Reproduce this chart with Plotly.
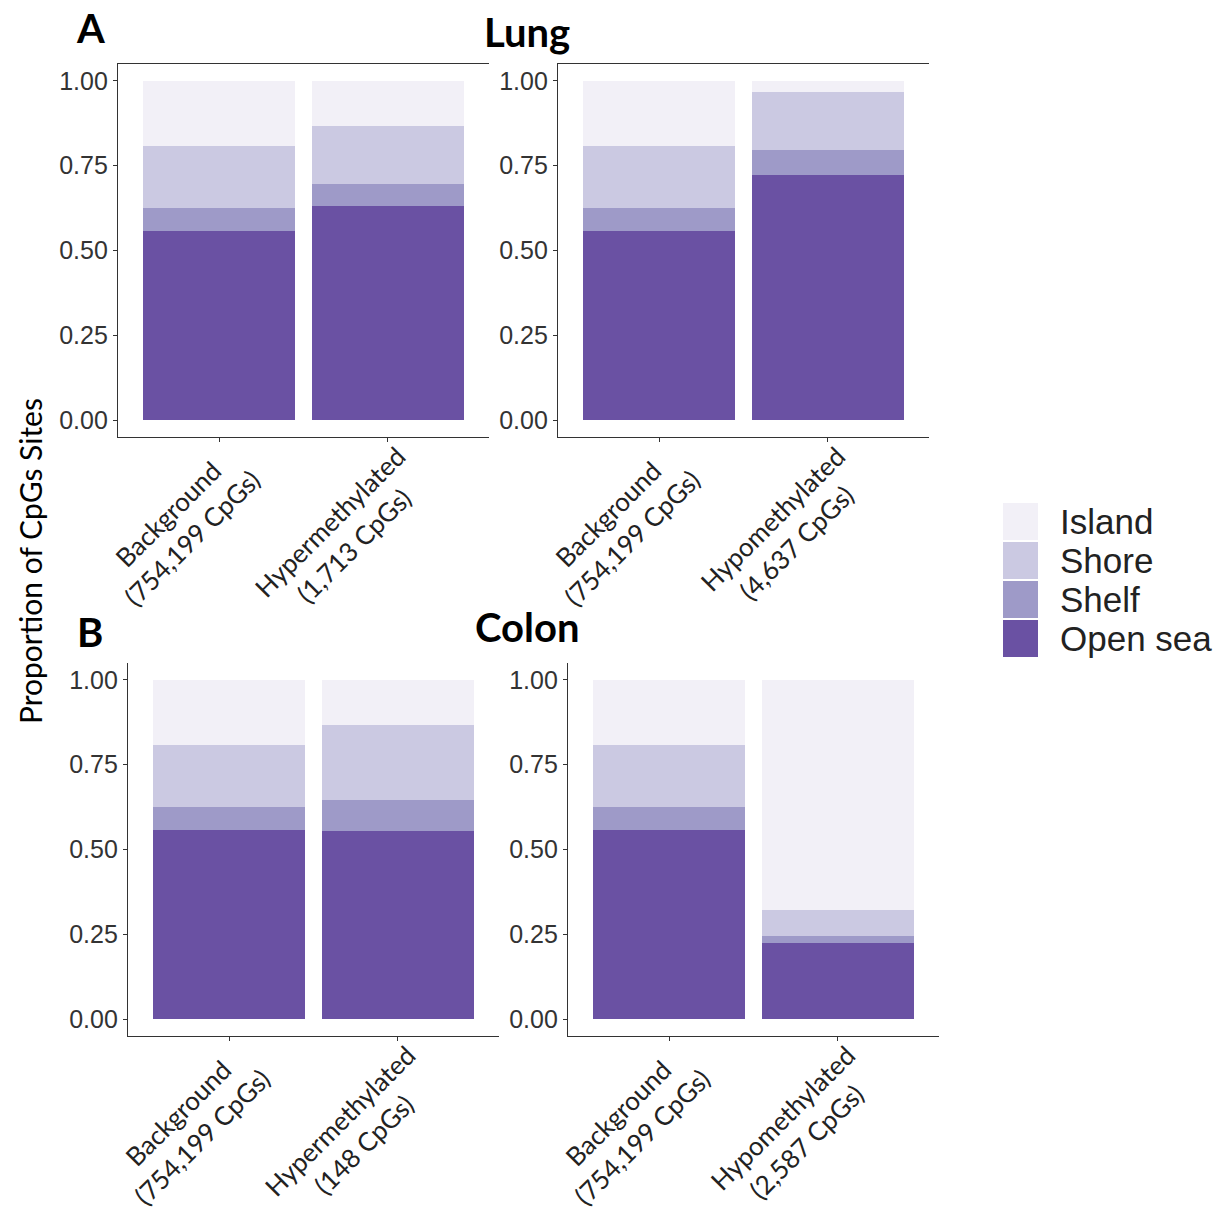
import plotly.graph_objects as go

W, H = 1228, 1211

# ---- data ----
region_names = ["Island", "Shore", "Shelf", "Open sea"]
region_colors = ["#f2f0f7", "#cbc9e2", "#9e9ac8", "#6a51a3"]

# proportions in the order Island, Shore, Shelf, Open sea
background_vals = [0.192, 0.184, 0.067, 0.557]
lung_hyper_vals = [0.133, 0.172, 0.064, 0.631]
lung_hypo_vals = [0.032, 0.172, 0.073, 0.723]
colon_hyper_vals = [0.133, 0.221, 0.091, 0.555]
colon_hypo_vals = [0.678, 0.076, 0.022, 0.224]

lung_hyper_labels = ["Background<br>(754,199 CpGs)", "Hypermethylated<br>(1,713 CpGs)"]
lung_hypo_labels = ["Background<br>(754,199 CpGs)", "Hypomethylated<br>(4,637 CpGs)"]
colon_hyper_labels = ["Background<br>(754,199 CpGs)", "Hypermethylated<br>(148 CpGs)"]
colon_hypo_labels = ["Background<br>(754,199 CpGs)", "Hypomethylated<br>(2,587 CpGs)"]

y_ticks = [0, 0.25, 0.5, 0.75, 1.0]

panels = [
    (lung_hyper_labels, background_vals, lung_hyper_vals),
    (lung_hypo_labels, background_vals, lung_hypo_vals),
    (colon_hyper_labels, background_vals, colon_hyper_vals),
    (colon_hypo_labels, background_vals, colon_hypo_vals),
]

# ---- layout geometry (pixels) ----
px_domains = [
    ((118, 489), (64, 437)),
    ((558, 929), (64, 437)),
    ((128, 499), (663, 1036)),
    ((568, 939), (663, 1036)),
]

fig = go.Figure()
LINE = "#333333"
layout = {}
annotations = []
for i, (labels, bg, vals) in enumerate(panels):
    k = "" if i == 0 else str(i + 1)
    for j in [3, 2, 1, 0]:
        fig.add_trace(go.Bar(
            x=labels, y=[bg[j], vals[j]], name=region_names[j],
            marker=dict(color=region_colors[j], line=dict(width=0)),
            xaxis="x" + k, yaxis="y" + k, showlegend=False,
        ))
    (x0, x1), (yt, yb) = px_domains[i]
    layout["xaxis" + k] = dict(
        domain=[x0 / W, x1 / W], anchor="y" + k, type="category", automargin=False,
        range=[-0.6, 1.6], showline=True, linecolor=LINE, linewidth=1.3,
        mirror=(i < 2), ticks="outside", ticklen=4, tickcolor=LINE, tickwidth=1.2,
        showticklabels=False, showgrid=False, zeroline=False,
    )
    layout["yaxis" + k] = dict(
        domain=[1 - yb / H, 1 - yt / H], anchor="x" + k, automargin=False,
        range=[-0.05, 1.05], tickvals=y_ticks, tickformat=".2f",
        showline=True, linecolor=LINE, linewidth=1.3, ticks="outside",
        ticklen=4, tickcolor=LINE, tickwidth=1.2, showgrid=False, zeroline=False,
        tickfont=dict(family="Liberation Sans", size=25, color="#333333"),
    )
    # category labels: centred two-line blocks rotated 45 degrees, block end at the tick
    for lab in labels:
        annotations.append(dict(
            text=lab, x=lab, xref="x" + k, y=1 - yb / H, yref="paper",
            xanchor="right", yanchor="top", textangle=-45, align="center",
            showarrow=False, xshift=50, yshift=0,
            font=dict(family="Lato", size=26, color="#222222"),
        ))

def title(text, x, y, size=40):
    annotations.append(dict(text="<b>%s</b>" % text, x=x / W, y=1 - y / H, xref="paper", yref="paper",
                            showarrow=False, xanchor="center", yanchor="middle",
                            font=dict(family="Lato", size=size, color="black")))

title("A", 90, 28)
title("Lung", 527, 32)
title("B", 90, 632)
title("Colon", 527, 627)

annotations.append(dict(text="Proportion of CpGs Sites", x=30 / W, y=1 - 561 / H, xref="paper", yref="paper",
                        showarrow=False, textangle=-90, xanchor="center", yanchor="middle",
                        font=dict(family="Lato", size=30, color="black")))

# manual legend
shapes = []
row_tops = [503, 542, 581, 620]
for name, col, top in zip(region_names, region_colors, row_tops):
    shapes.append(dict(type="rect", xref="paper", yref="paper",
                       x0=1003 / W, x1=1038 / W, y0=1 - (top + 37) / H, y1=1 - top / H,
                       fillcolor=col, line=dict(width=0)))
    annotations.append(dict(text=name, x=1058 / W, y=1 - (top + 18.5) / H, xref="paper", yref="paper",
                            showarrow=False, xanchor="left", yanchor="middle",
                            font=dict(family="Liberation Sans", size=35, color="#222222")))

fig.update_layout(
    width=W, height=H, margin=dict(l=0, r=0, t=0, b=0),
    paper_bgcolor="white", plot_bgcolor="white",
    barmode="stack", bargap=0.1, showlegend=False,
    annotations=annotations, shapes=shapes, **layout,
)

fig.write_html("out.html")
